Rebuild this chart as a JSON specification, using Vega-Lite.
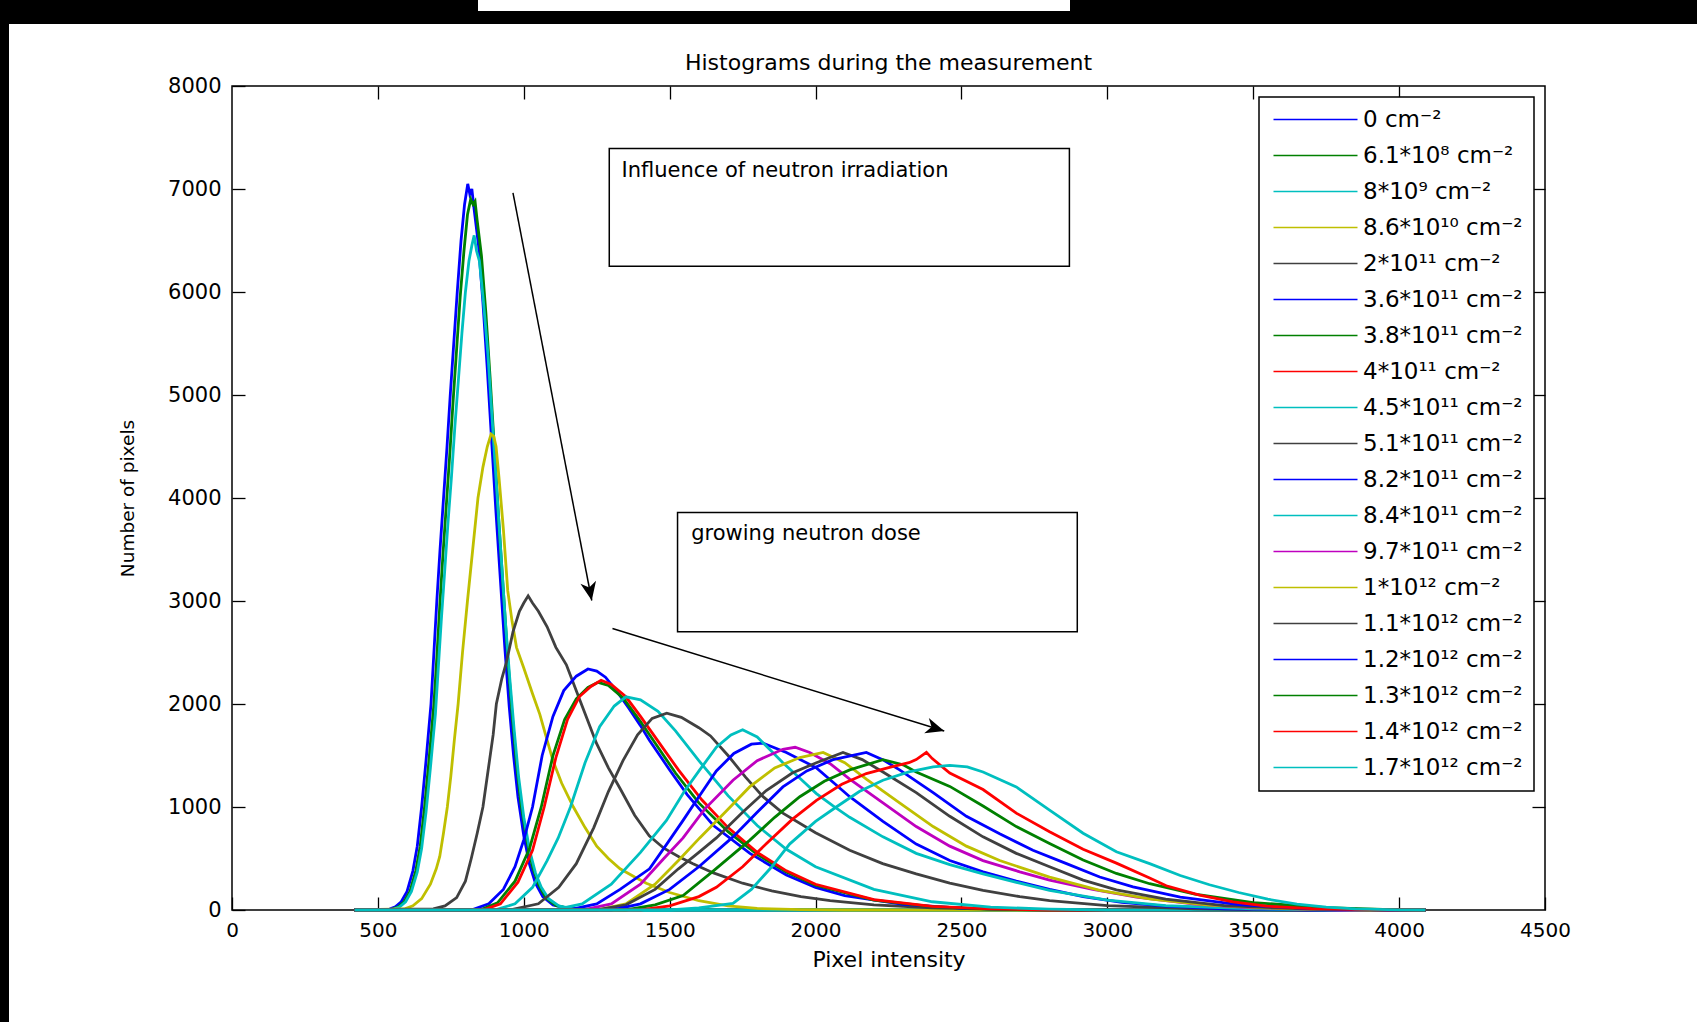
{
"$schema": "https://vega.github.io/schema/vega-lite/v6.json",
"padding": 0,
"background": "white",
"autosize": {"type": "pad"},
"datasets": {
"doses": [{"s":1,"dose":"0 cm⁻²"},{"s":2,"dose":"6.1*10⁸ cm⁻²"},{"s":3,"dose":"8*10⁹ cm⁻²"},{"s":4,"dose":"8.6*10¹⁰ cm⁻²"},{"s":5,"dose":"2*10¹¹ cm⁻²"},{"s":6,"dose":"3.6*10¹¹ cm⁻²"},{"s":7,"dose":"3.8*10¹¹ cm⁻²"},{"s":8,"dose":"4*10¹¹ cm⁻²"},{"s":9,"dose":"4.5*10¹¹ cm⁻²"},{"s":10,"dose":"5.1*10¹¹ cm⁻²"},{"s":11,"dose":"8.2*10¹¹ cm⁻²"},{"s":12,"dose":"8.4*10¹¹ cm⁻²"},{"s":13,"dose":"9.7*10¹¹ cm⁻²"},{"s":14,"dose":"1*10¹² cm⁻²"},{"s":15,"dose":"1.1*10¹² cm⁻²"},{"s":16,"dose":"1.2*10¹² cm⁻²"},{"s":17,"dose":"1.3*10¹² cm⁻²"},{"s":18,"dose":"1.4*10¹² cm⁻²"},{"s":19,"dose":"1.7*10¹² cm⁻²"}],
"boxes": [{"x1":1293,"x2":2870,"y1":6251,"y2":7393,"tx":1335,"ty":7173,"label":"Influence of neutron irradiation"},{"x1":1527,"x2":2897,"y1":2702,"y2":3860,"tx":1574,"ty":3651,"label":"growing neutron dose"}],
"arrows": [{"x1":963,"y1":6963,"x2":1233,"y2":3005},{"x1":1304,"y1":2733,"x2":2441,"y2":1738}],
"curves": [
{"s":1,"x":420,"y":0},{"s":1,"x":540,"y":8},{"s":1,"x":560,"y":30},{"s":1,"x":580,"y":80},{"s":1,"x":600,"y":180},{"s":1,"x":620,"y":380},{"s":1,"x":635,"y":620},{"s":1,"x":650,"y":1000},{"s":1,"x":665,"y":1450},{"s":1,"x":682,"y":2000},{"s":1,"x":692,"y":2500},{"s":1,"x":702,"y":3000},{"s":1,"x":713,"y":3500},{"s":1,"x":725,"y":4000},{"s":1,"x":737,"y":4500},{"s":1,"x":748,"y":5000},{"s":1,"x":760,"y":5500},{"s":1,"x":772,"y":6000},{"s":1,"x":785,"y":6500},{"s":1,"x":797,"y":6850},{"s":1,"x":808,"y":7050},{"s":1,"x":815,"y":6950},{"s":1,"x":822,"y":7000},{"s":1,"x":830,"y":6800},{"s":1,"x":845,"y":6450},{"s":1,"x":860,"y":5900},{"s":1,"x":875,"y":5250},{"s":1,"x":890,"y":4550},{"s":1,"x":905,"y":3850},{"s":1,"x":920,"y":3200},{"s":1,"x":935,"y":2550},{"s":1,"x":950,"y":1980},{"s":1,"x":965,"y":1500},{"s":1,"x":980,"y":1100},{"s":1,"x":1000,"y":720},{"s":1,"x":1020,"y":440},{"s":1,"x":1040,"y":260},{"s":1,"x":1065,"y":130},{"s":1,"x":1100,"y":50},{"s":1,"x":1150,"y":15},{"s":1,"x":1250,"y":3},{"s":1,"x":1400,"y":0},{"s":1,"x":4090,"y":0},
{"s":2,"x":420,"y":0},{"s":2,"x":550,"y":8},{"s":2,"x":570,"y":30},{"s":2,"x":590,"y":80},{"s":2,"x":610,"y":180},{"s":2,"x":630,"y":380},{"s":2,"x":645,"y":620},{"s":2,"x":660,"y":1000},{"s":2,"x":675,"y":1450},{"s":2,"x":692,"y":2000},{"s":2,"x":702,"y":2450},{"s":2,"x":712,"y":2950},{"s":2,"x":723,"y":3450},{"s":2,"x":735,"y":3950},{"s":2,"x":747,"y":4450},{"s":2,"x":758,"y":4950},{"s":2,"x":770,"y":5450},{"s":2,"x":782,"y":5950},{"s":2,"x":795,"y":6400},{"s":2,"x":807,"y":6750},{"s":2,"x":818,"y":6900},{"s":2,"x":826,"y":6850},{"s":2,"x":833,"y":6880},{"s":2,"x":840,"y":6700},{"s":2,"x":855,"y":6350},{"s":2,"x":870,"y":5800},{"s":2,"x":885,"y":5150},{"s":2,"x":900,"y":4450},{"s":2,"x":915,"y":3750},{"s":2,"x":930,"y":3100},{"s":2,"x":945,"y":2450},{"s":2,"x":960,"y":1900},{"s":2,"x":975,"y":1420},{"s":2,"x":990,"y":1040},{"s":2,"x":1010,"y":680},{"s":2,"x":1030,"y":420},{"s":2,"x":1050,"y":250},{"s":2,"x":1075,"y":120},{"s":2,"x":1110,"y":45},{"s":2,"x":1160,"y":12},{"s":2,"x":1260,"y":2},{"s":2,"x":1400,"y":0},{"s":2,"x":4090,"y":0},
{"s":3,"x":420,"y":0},{"s":3,"x":555,"y":8},{"s":3,"x":575,"y":30},{"s":3,"x":595,"y":80},{"s":3,"x":615,"y":180},{"s":3,"x":635,"y":370},{"s":3,"x":650,"y":600},{"s":3,"x":665,"y":950},{"s":3,"x":680,"y":1380},{"s":3,"x":697,"y":1900},{"s":3,"x":707,"y":2350},{"s":3,"x":717,"y":2800},{"s":3,"x":728,"y":3250},{"s":3,"x":740,"y":3750},{"s":3,"x":752,"y":4200},{"s":3,"x":764,"y":4700},{"s":3,"x":776,"y":5150},{"s":3,"x":788,"y":5600},{"s":3,"x":800,"y":6000},{"s":3,"x":812,"y":6300},{"s":3,"x":822,"y":6450},{"s":3,"x":830,"y":6550},{"s":3,"x":838,"y":6400},{"s":3,"x":848,"y":6300},{"s":3,"x":862,"y":5900},{"s":3,"x":877,"y":5400},{"s":3,"x":892,"y":4750},{"s":3,"x":907,"y":4100},{"s":3,"x":922,"y":3450},{"s":3,"x":937,"y":2800},{"s":3,"x":952,"y":2250},{"s":3,"x":967,"y":1750},{"s":3,"x":982,"y":1300},{"s":3,"x":1000,"y":900},{"s":3,"x":1020,"y":580},{"s":3,"x":1040,"y":360},{"s":3,"x":1060,"y":220},{"s":3,"x":1085,"y":110},{"s":3,"x":1120,"y":40},{"s":3,"x":1170,"y":12},{"s":3,"x":1270,"y":2},{"s":3,"x":1400,"y":0},{"s":3,"x":4090,"y":0},
{"s":4,"x":420,"y":0},{"s":4,"x":590,"y":10},{"s":4,"x":620,"y":40},{"s":4,"x":650,"y":110},{"s":4,"x":680,"y":250},{"s":4,"x":700,"y":400},{"s":4,"x":712,"y":520},{"s":4,"x":725,"y":750},{"s":4,"x":738,"y":1000},{"s":4,"x":750,"y":1300},{"s":4,"x":762,"y":1650},{"s":4,"x":775,"y":2000},{"s":4,"x":790,"y":2500},{"s":4,"x":807,"y":3000},{"s":4,"x":825,"y":3500},{"s":4,"x":843,"y":4000},{"s":4,"x":860,"y":4300},{"s":4,"x":875,"y":4500},{"s":4,"x":888,"y":4620},{"s":4,"x":897,"y":4600},{"s":4,"x":905,"y":4500},{"s":4,"x":915,"y":4200},{"s":4,"x":930,"y":3700},{"s":4,"x":945,"y":3100},{"s":4,"x":960,"y":2800},{"s":4,"x":975,"y":2550},{"s":4,"x":1000,"y":2350},{"s":4,"x":1030,"y":2100},{"s":4,"x":1055,"y":1900},{"s":4,"x":1080,"y":1650},{"s":4,"x":1100,"y":1450},{"s":4,"x":1130,"y":1230},{"s":4,"x":1170,"y":1000},{"s":4,"x":1210,"y":800},{"s":4,"x":1250,"y":620},{"s":4,"x":1290,"y":500},{"s":4,"x":1330,"y":400},{"s":4,"x":1380,"y":320},{"s":4,"x":1420,"y":260},{"s":4,"x":1500,"y":170},{"s":4,"x":1600,"y":90},{"s":4,"x":1700,"y":40},{"s":4,"x":1800,"y":15},{"s":4,"x":1950,"y":3},{"s":4,"x":2100,"y":0},{"s":4,"x":4090,"y":0},
{"s":5,"x":420,"y":0},{"s":5,"x":690,"y":10},{"s":5,"x":730,"y":40},{"s":5,"x":770,"y":120},{"s":5,"x":800,"y":280},{"s":5,"x":820,"y":500},{"s":5,"x":840,"y":740},{"s":5,"x":860,"y":1000},{"s":5,"x":880,"y":1400},{"s":5,"x":895,"y":1700},{"s":5,"x":906,"y":2000},{"s":5,"x":925,"y":2250},{"s":5,"x":940,"y":2400},{"s":5,"x":963,"y":2700},{"s":5,"x":985,"y":2900},{"s":5,"x":1000,"y":2980},{"s":5,"x":1015,"y":3050},{"s":5,"x":1030,"y":2980},{"s":5,"x":1050,"y":2900},{"s":5,"x":1080,"y":2750},{"s":5,"x":1110,"y":2550},{"s":5,"x":1146,"y":2380},{"s":5,"x":1200,"y":1980},{"s":5,"x":1249,"y":1620},{"s":5,"x":1290,"y":1380},{"s":5,"x":1330,"y":1180},{"s":5,"x":1380,"y":920},{"s":5,"x":1430,"y":720},{"s":5,"x":1480,"y":600},{"s":5,"x":1530,"y":520},{"s":5,"x":1580,"y":450},{"s":5,"x":1650,"y":360},{"s":5,"x":1750,"y":260},{"s":5,"x":1850,"y":185},{"s":5,"x":1950,"y":130},{"s":5,"x":2050,"y":90},{"s":5,"x":2200,"y":50},{"s":5,"x":2400,"y":22},{"s":5,"x":2600,"y":8},{"s":5,"x":2900,"y":0},{"s":5,"x":4090,"y":0},
{"s":6,"x":420,"y":0},{"s":6,"x":820,"y":0},{"s":6,"x":880,"y":60},{"s":6,"x":930,"y":200},{"s":6,"x":970,"y":420},{"s":6,"x":1000,"y":680},{"s":6,"x":1030,"y":1000},{"s":6,"x":1063,"y":1500},{"s":6,"x":1100,"y":1880},{"s":6,"x":1137,"y":2130},{"s":6,"x":1180,"y":2270},{"s":6,"x":1220,"y":2340},{"s":6,"x":1250,"y":2320},{"s":6,"x":1280,"y":2260},{"s":6,"x":1320,"y":2120},{"s":6,"x":1360,"y":1960},{"s":6,"x":1400,"y":1790},{"s":6,"x":1430,"y":1650},{"s":6,"x":1500,"y":1360},{"s":6,"x":1560,"y":1120},{"s":6,"x":1650,"y":820},{"s":6,"x":1775,"y":550},{"s":6,"x":1900,"y":340},{"s":6,"x":2000,"y":220},{"s":6,"x":2100,"y":140},{"s":6,"x":2300,"y":55},{"s":6,"x":2500,"y":18},{"s":6,"x":2700,"y":4},{"s":6,"x":2900,"y":0},{"s":6,"x":4090,"y":0},
{"s":7,"x":420,"y":0},{"s":7,"x":850,"y":0},{"s":7,"x":910,"y":70},{"s":7,"x":970,"y":280},{"s":7,"x":1020,"y":600},{"s":7,"x":1060,"y":1000},{"s":7,"x":1100,"y":1500},{"s":7,"x":1140,"y":1850},{"s":7,"x":1180,"y":2050},{"s":7,"x":1220,"y":2160},{"s":7,"x":1255,"y":2210},{"s":7,"x":1290,"y":2180},{"s":7,"x":1340,"y":2060},{"s":7,"x":1400,"y":1830},{"s":7,"x":1460,"y":1580},{"s":7,"x":1520,"y":1330},{"s":7,"x":1600,"y":1040},{"s":7,"x":1700,"y":760},{"s":7,"x":1800,"y":540},{"s":7,"x":1900,"y":370},{"s":7,"x":2000,"y":240},{"s":7,"x":2200,"y":95},{"s":7,"x":2400,"y":32},{"s":7,"x":2600,"y":8},{"s":7,"x":2800,"y":0},{"s":7,"x":4090,"y":0},
{"s":8,"x":420,"y":0},{"s":8,"x":860,"y":0},{"s":8,"x":920,"y":60},{"s":8,"x":980,"y":270},{"s":8,"x":1030,"y":580},{"s":8,"x":1070,"y":1000},{"s":8,"x":1110,"y":1480},{"s":8,"x":1150,"y":1850},{"s":8,"x":1190,"y":2070},{"s":8,"x":1230,"y":2170},{"s":8,"x":1265,"y":2230},{"s":8,"x":1300,"y":2190},{"s":8,"x":1350,"y":2070},{"s":8,"x":1400,"y":1880},{"s":8,"x":1460,"y":1640},{"s":8,"x":1530,"y":1360},{"s":8,"x":1610,"y":1070},{"s":8,"x":1700,"y":800},{"s":8,"x":1800,"y":560},{"s":8,"x":1900,"y":380},{"s":8,"x":2000,"y":250},{"s":8,"x":2200,"y":100},{"s":8,"x":2400,"y":35},{"s":8,"x":2600,"y":10},{"s":8,"x":2800,"y":0},{"s":8,"x":4090,"y":0},
{"s":9,"x":420,"y":0},{"s":9,"x":900,"y":0},{"s":9,"x":970,"y":60},{"s":9,"x":1030,"y":220},{"s":9,"x":1080,"y":480},{"s":9,"x":1118,"y":700},{"s":9,"x":1160,"y":1000},{"s":9,"x":1210,"y":1430},{"s":9,"x":1260,"y":1780},{"s":9,"x":1310,"y":1980},{"s":9,"x":1350,"y":2070},{"s":9,"x":1400,"y":2040},{"s":9,"x":1460,"y":1930},{"s":9,"x":1520,"y":1740},{"s":9,"x":1600,"y":1450},{"s":9,"x":1700,"y":1110},{"s":9,"x":1800,"y":820},{"s":9,"x":1900,"y":590},{"s":9,"x":2000,"y":420},{"s":9,"x":2200,"y":200},{"s":9,"x":2400,"y":80},{"s":9,"x":2600,"y":28},{"s":9,"x":2800,"y":8},{"s":9,"x":3000,"y":0},{"s":9,"x":4090,"y":0},
{"s":10,"x":420,"y":0},{"s":10,"x":950,"y":0},{"s":10,"x":1050,"y":60},{"s":10,"x":1120,"y":220},{"s":10,"x":1180,"y":450},{"s":10,"x":1240,"y":800},{"s":10,"x":1290,"y":1150},{"s":10,"x":1340,"y":1450},{"s":10,"x":1390,"y":1700},{"s":10,"x":1440,"y":1860},{"s":10,"x":1490,"y":1910},{"s":10,"x":1540,"y":1870},{"s":10,"x":1600,"y":1770},{"s":10,"x":1640,"y":1690},{"s":10,"x":1700,"y":1500},{"s":10,"x":1760,"y":1290},{"s":10,"x":1820,"y":1100},{"s":10,"x":1888,"y":940},{"s":10,"x":2000,"y":750},{"s":10,"x":2117,"y":580},{"s":10,"x":2230,"y":450},{"s":10,"x":2345,"y":350},{"s":10,"x":2460,"y":260},{"s":10,"x":2574,"y":190},{"s":10,"x":2700,"y":130},{"s":10,"x":2802,"y":90},{"s":10,"x":3000,"y":42},{"s":10,"x":3300,"y":12},{"s":10,"x":3600,"y":0},{"s":10,"x":4090,"y":0},
{"s":11,"x":420,"y":0},{"s":11,"x":1150,"y":0},{"s":11,"x":1250,"y":60},{"s":11,"x":1330,"y":200},{"s":11,"x":1431,"y":400},{"s":11,"x":1490,"y":640},{"s":11,"x":1546,"y":870},{"s":11,"x":1600,"y":1100},{"s":11,"x":1660,"y":1350},{"s":11,"x":1720,"y":1520},{"s":11,"x":1780,"y":1610},{"s":11,"x":1820,"y":1620},{"s":11,"x":1900,"y":1530},{"s":11,"x":2003,"y":1380},{"s":11,"x":2060,"y":1240},{"s":11,"x":2117,"y":1100},{"s":11,"x":2231,"y":860},{"s":11,"x":2345,"y":640},{"s":11,"x":2460,"y":480},{"s":11,"x":2574,"y":370},{"s":11,"x":2688,"y":280},{"s":11,"x":2802,"y":200},{"s":11,"x":2917,"y":130},{"s":11,"x":3050,"y":75},{"s":11,"x":3200,"y":38},{"s":11,"x":3400,"y":12},{"s":11,"x":3700,"y":0},{"s":11,"x":4090,"y":0},
{"s":12,"x":420,"y":0},{"s":12,"x":1100,"y":0},{"s":12,"x":1200,"y":60},{"s":12,"x":1300,"y":250},{"s":12,"x":1400,"y":560},{"s":12,"x":1489,"y":870},{"s":12,"x":1550,"y":1150},{"s":12,"x":1603,"y":1360},{"s":12,"x":1660,"y":1580},{"s":12,"x":1710,"y":1700},{"s":12,"x":1750,"y":1750},{"s":12,"x":1800,"y":1680},{"s":12,"x":1850,"y":1540},{"s":12,"x":1888,"y":1430},{"s":12,"x":1950,"y":1270},{"s":12,"x":2003,"y":1130},{"s":12,"x":2060,"y":1010},{"s":12,"x":2117,"y":900},{"s":12,"x":2231,"y":710},{"s":12,"x":2345,"y":550},{"s":12,"x":2460,"y":440},{"s":12,"x":2574,"y":350},{"s":12,"x":2700,"y":260},{"s":12,"x":2802,"y":190},{"s":12,"x":3000,"y":95},{"s":12,"x":3200,"y":42},{"s":12,"x":3500,"y":10},{"s":12,"x":3800,"y":0},{"s":12,"x":4090,"y":0},
{"s":13,"x":420,"y":0},{"s":13,"x":1200,"y":0},{"s":13,"x":1300,"y":60},{"s":13,"x":1400,"y":250},{"s":13,"x":1480,"y":500},{"s":13,"x":1546,"y":700},{"s":13,"x":1620,"y":980},{"s":13,"x":1717,"y":1260},{"s":13,"x":1800,"y":1450},{"s":13,"x":1888,"y":1560},{"s":13,"x":1930,"y":1580},{"s":13,"x":1980,"y":1530},{"s":13,"x":2050,"y":1420},{"s":13,"x":2117,"y":1270},{"s":13,"x":2231,"y":1040},{"s":13,"x":2345,"y":810},{"s":13,"x":2460,"y":620},{"s":13,"x":2574,"y":480},{"s":13,"x":2700,"y":370},{"s":13,"x":2802,"y":290},{"s":13,"x":2950,"y":200},{"s":13,"x":3100,"y":125},{"s":13,"x":3300,"y":58},{"s":13,"x":3500,"y":22},{"s":13,"x":3800,"y":0},{"s":13,"x":4090,"y":0},
{"s":14,"x":420,"y":0},{"s":14,"x":1250,"y":0},{"s":14,"x":1350,"y":60},{"s":14,"x":1450,"y":250},{"s":14,"x":1530,"y":480},{"s":14,"x":1603,"y":700},{"s":14,"x":1690,"y":950},{"s":14,"x":1774,"y":1195},{"s":14,"x":1860,"y":1380},{"s":14,"x":1946,"y":1480},{"s":14,"x":2026,"y":1530},{"s":14,"x":2100,"y":1430},{"s":14,"x":2174,"y":1270},{"s":14,"x":2288,"y":1040},{"s":14,"x":2403,"y":810},{"s":14,"x":2517,"y":620},{"s":14,"x":2631,"y":480},{"s":14,"x":2802,"y":320},{"s":14,"x":2974,"y":190},{"s":14,"x":3150,"y":105},{"s":14,"x":3350,"y":48},{"s":14,"x":3600,"y":14},{"s":14,"x":3900,"y":0},{"s":14,"x":4090,"y":0},
{"s":15,"x":420,"y":0},{"s":15,"x":1250,"y":0},{"s":15,"x":1350,"y":50},{"s":15,"x":1450,"y":200},{"s":15,"x":1530,"y":400},{"s":15,"x":1600,"y":560},{"s":15,"x":1660,"y":700},{"s":15,"x":1750,"y":950},{"s":15,"x":1831,"y":1160},{"s":15,"x":1920,"y":1330},{"s":15,"x":2003,"y":1430},{"s":15,"x":2094,"y":1530},{"s":15,"x":2160,"y":1460},{"s":15,"x":2231,"y":1340},{"s":15,"x":2345,"y":1140},{"s":15,"x":2460,"y":910},{"s":15,"x":2574,"y":710},{"s":15,"x":2688,"y":550},{"s":15,"x":2802,"y":420},{"s":15,"x":2917,"y":290},{"s":15,"x":3031,"y":195},{"s":15,"x":3200,"y":105},{"s":15,"x":3400,"y":42},{"s":15,"x":3700,"y":8},{"s":15,"x":3950,"y":0},{"s":15,"x":4090,"y":0},
{"s":16,"x":420,"y":0},{"s":16,"x":1300,"y":0},{"s":16,"x":1400,"y":60},{"s":16,"x":1500,"y":200},{"s":16,"x":1600,"y":420},{"s":16,"x":1717,"y":710},{"s":16,"x":1800,"y":950},{"s":16,"x":1888,"y":1195},{"s":16,"x":1970,"y":1350},{"s":16,"x":2060,"y":1460},{"s":16,"x":2174,"y":1530},{"s":16,"x":2230,"y":1460},{"s":16,"x":2288,"y":1360},{"s":16,"x":2403,"y":1140},{"s":16,"x":2517,"y":910},{"s":16,"x":2631,"y":740},{"s":16,"x":2745,"y":580},{"s":16,"x":2860,"y":450},{"s":16,"x":2974,"y":320},{"s":16,"x":3088,"y":225},{"s":16,"x":3250,"y":125},{"s":16,"x":3450,"y":52},{"s":16,"x":3700,"y":13},{"s":16,"x":4000,"y":0},{"s":16,"x":4090,"y":0},
{"s":17,"x":420,"y":0},{"s":17,"x":1350,"y":0},{"s":17,"x":1450,"y":50},{"s":17,"x":1546,"y":140},{"s":17,"x":1650,"y":380},{"s":17,"x":1774,"y":676},{"s":17,"x":1860,"y":900},{"s":17,"x":1946,"y":1100},{"s":17,"x":2030,"y":1250},{"s":17,"x":2117,"y":1360},{"s":17,"x":2231,"y":1460},{"s":17,"x":2300,"y":1410},{"s":17,"x":2345,"y":1340},{"s":17,"x":2460,"y":1200},{"s":17,"x":2574,"y":1010},{"s":17,"x":2688,"y":810},{"s":17,"x":2802,"y":645},{"s":17,"x":2917,"y":485},{"s":17,"x":3031,"y":355},{"s":17,"x":3145,"y":255},{"s":17,"x":3300,"y":155},{"s":17,"x":3500,"y":72},{"s":17,"x":3750,"y":22},{"s":17,"x":4000,"y":2},{"s":17,"x":4090,"y":0},
{"s":18,"x":420,"y":0},{"s":18,"x":1400,"y":0},{"s":18,"x":1500,"y":40},{"s":18,"x":1600,"y":130},{"s":18,"x":1660,"y":220},{"s":18,"x":1750,"y":420},{"s":18,"x":1831,"y":643},{"s":18,"x":1920,"y":880},{"s":18,"x":2003,"y":1065},{"s":18,"x":2090,"y":1220},{"s":18,"x":2174,"y":1325},{"s":18,"x":2260,"y":1390},{"s":18,"x":2320,"y":1430},{"s":18,"x":2345,"y":1460},{"s":18,"x":2380,"y":1530},{"s":18,"x":2400,"y":1470},{"s":18,"x":2460,"y":1330},{"s":18,"x":2574,"y":1170},{"s":18,"x":2688,"y":940},{"s":18,"x":2802,"y":760},{"s":18,"x":2917,"y":590},{"s":18,"x":3031,"y":455},{"s":18,"x":3145,"y":310},{"s":18,"x":3202,"y":235},{"s":18,"x":3316,"y":145},{"s":18,"x":3431,"y":78},{"s":18,"x":3545,"y":38},{"s":18,"x":3700,"y":13},{"s":18,"x":3900,"y":3},{"s":18,"x":4050,"y":0},{"s":18,"x":4090,"y":0},
{"s":19,"x":420,"y":0},{"s":19,"x":1500,"y":0},{"s":19,"x":1600,"y":20},{"s":19,"x":1717,"y":65},{"s":19,"x":1780,"y":200},{"s":19,"x":1850,"y":420},{"s":19,"x":1911,"y":640},{"s":19,"x":2000,"y":860},{"s":19,"x":2071,"y":1000},{"s":19,"x":2150,"y":1150},{"s":19,"x":2231,"y":1260},{"s":19,"x":2320,"y":1340},{"s":19,"x":2403,"y":1390},{"s":19,"x":2460,"y":1405},{"s":19,"x":2520,"y":1390},{"s":19,"x":2574,"y":1340},{"s":19,"x":2688,"y":1195},{"s":19,"x":2802,"y":970},{"s":19,"x":2917,"y":745},{"s":19,"x":3031,"y":565},{"s":19,"x":3145,"y":450},{"s":19,"x":3250,"y":335},{"s":19,"x":3350,"y":245},{"s":19,"x":3450,"y":170},{"s":19,"x":3550,"y":105},{"s":19,"x":3650,"y":58},{"s":19,"x":3750,"y":27},{"s":19,"x":3850,"y":10},{"s":19,"x":4000,"y":2},{"s":19,"x":4090,"y":0}
]
},
"bounds": "flush",
"spacing": 0,
"resolve": {"scale": {"color": "independent"}, "legend": {"color": "independent"}},
"hconcat": [
{"width": 9, "height": 1022, "data": {"values": []}, "mark": "point", "view": {"fill": "black", "stroke": null}},
{"bounds": "full", "spacing": 27,
 "resolve": {"scale": {"color": "independent"}, "legend": {"color": "independent"}},
 "vconcat": [
 {"bounds": "full", "spacing": 0,
  "vconcat": [
   {"bounds": "flush", "spacing": 0,
    "hconcat": [
     {"width": 469, "height": 11, "data": {"values": []}, "mark": "point", "view": {"fill": "black", "stroke": null}},
     {"width": 592, "height": 11, "data": {"values": []}, "mark": "point", "view": {"fill": "white", "stroke": null}},
     {"width": 627, "height": 11, "data": {"values": []}, "mark": "point", "view": {"fill": "black", "stroke": null}}
    ]},
   {"width": 1688, "height": 13, "data": {"values": []}, "mark": "point", "view": {"fill": "black", "stroke": null}}
  ]},
 {"bounds": "flush", "spacing": 0,
  "resolve": {"scale": {"color": "independent"}, "legend": {"color": "independent"}},
  "hconcat": [
  {"width": 223, "height": 824, "data": {"values": []}, "mark": "point", "view": {"stroke": null}},
  {"width": 1313, "height": 824,
   "title": {"text": "Histograms during the measurement", "frame": "group", "anchor": "middle", "fontSize": 22, "fontWeight": "normal", "font": "DejaVu Sans", "color": "black", "offset": 0},
   "view": {"stroke": "black", "strokeWidth": 1.5},
   "resolve": {"axis": {"x": "independent", "y": "independent"}},
   "layer": [
    {"data": {"name": "curves"},
     "transform": [{"lookup": "s", "from": {"data": {"name": "doses"}, "key": "s", "fields": ["dose"]}}],
     "mark": {"type": "line", "strokeWidth": 2.8},
     "encoding": {
      "x": {"field": "x", "type": "quantitative", "scale": {"domain": [0, 4500], "nice": false, "zero": false},
            "axis": {"orient": "bottom", "values": [0,500,1000,1500,2000,2500,3000,3500,4000,4500], "format": "d", "tickSize": -13, "labelPadding": 23, "labelFontSize": 20, "labelFlush": false, "labelOverlap": false, "title": "Pixel intensity", "titleFontSize": 22, "titlePadding": 9}},
      "y": {"field": "y", "type": "quantitative", "scale": {"domain": [0, 8000], "nice": false},
            "axis": {"orient": "left", "values": [0,1000,2000,3000,4000,5000,6000,7000,8000], "format": "d", "tickSize": -13, "labelPadding": 24, "labelFontSize": 21, "labelOverlap": false, "title": "Number of pixels", "titleFontSize": 18.5, "titlePadding": 30}},
      "color": {"field": "dose", "type": "nominal",
                "scale": {"domain": ["0 cm⁻²","6.1*10⁸ cm⁻²","8*10⁹ cm⁻²","8.6*10¹⁰ cm⁻²","2*10¹¹ cm⁻²","3.6*10¹¹ cm⁻²","3.8*10¹¹ cm⁻²","4*10¹¹ cm⁻²","4.5*10¹¹ cm⁻²","5.1*10¹¹ cm⁻²","8.2*10¹¹ cm⁻²","8.4*10¹¹ cm⁻²","9.7*10¹¹ cm⁻²","1*10¹² cm⁻²","1.1*10¹² cm⁻²","1.2*10¹² cm⁻²","1.3*10¹² cm⁻²","1.4*10¹² cm⁻²","1.7*10¹² cm⁻²"],
                          "range": ["#0000ff","#008000","#00bfbf","#bfbf00","#404040","#0000ff","#008000","#ff0000","#00bfbf","#404040","#0000ff","#00bfbf","#bf00bf","#bfbf00","#404040","#0000ff","#008000","#ff0000","#00bfbf"]},
                "legend": {"title": null, "orient": "top-right", "offset": 11}}
     }},
    {"data": {"name": "boxes"},
     "mark": {"type": "rect", "fill": "white", "stroke": "black", "strokeWidth": 1.5},
     "encoding": {
      "x": {"field": "x1", "type": "quantitative", "scale": {"domain": [0, 4500], "nice": false}, "axis": null},
      "x2": {"field": "x2"},
      "y": {"field": "y1", "type": "quantitative", "scale": {"domain": [0, 8000], "nice": false}, "axis": null},
      "y2": {"field": "y2"}}},
    {"data": {"name": "boxes"},
     "mark": {"type": "text", "align": "left", "baseline": "middle", "font": "DejaVu Sans", "fontSize": 21, "color": "black"},
     "encoding": {
      "x": {"field": "tx", "type": "quantitative", "scale": {"domain": [0, 4500], "nice": false}, "axis": null},
      "y": {"field": "ty", "type": "quantitative", "scale": {"domain": [0, 8000], "nice": false}, "axis": null},
      "text": {"field": "label"}}},
    {"data": {"name": "arrows"},
     "mark": {"type": "rule", "color": "black", "strokeWidth": 1.5},
     "encoding": {
      "x": {"field": "x1", "type": "quantitative", "scale": {"domain": [0, 4500], "nice": false}, "axis": null},
      "x2": {"field": "x2"},
      "y": {"field": "y1", "type": "quantitative", "scale": {"domain": [0, 8000], "nice": false}, "axis": null},
      "y2": {"field": "y2"}}},
    {"data": {"name": "arrows"},
     "transform": [{"filter": "datum.x1 < 1000"}],
     "mark": {"type": "point", "shape": "M0,0L-0.6,-1.4L0,-1L0.6,-1.4Z", "size": 700, "filled": true, "color": "black", "opacity": 1, "angle": -11},
     "encoding": {
      "x": {"field": "x2", "type": "quantitative", "scale": {"domain": [0, 4500], "nice": false}, "axis": null},
      "y": {"field": "y2", "type": "quantitative", "scale": {"domain": [0, 8000], "nice": false}, "axis": null}}},
    {"data": {"name": "arrows"},
     "transform": [{"filter": "datum.x1 > 1000"}],
     "mark": {"type": "point", "shape": "M0,0L-0.6,-1.4L0,-1L0.6,-1.4Z", "size": 700, "filled": true, "color": "black", "opacity": 1, "angle": -73},
     "encoding": {
      "x": {"field": "x2", "type": "quantitative", "scale": {"domain": [0, 4500], "nice": false}, "axis": null},
      "y": {"field": "y2", "type": "quantitative", "scale": {"domain": [0, 8000], "nice": false}, "axis": null}}},
    {"data": {"values": []},
     "mark": "point",
     "encoding": {
      "x": {"field": "x", "type": "quantitative", "scale": {"domain": [0, 4500], "nice": false},
            "axis": {"orient": "top", "values": [500,1000,1500,2000,2500,3000,3500,4000], "labels": false, "tickSize": -13, "title": null}},
      "y": {"field": "y", "type": "quantitative", "scale": {"domain": [0, 8000], "nice": false},
            "axis": {"orient": "right", "values": [1000,2000,3000,4000,5000,6000,7000], "labels": false, "tickSize": -13, "title": null}}}}
   ]}
 ]}
]}
],
"config": {
 "font": "DejaVu Sans",
 "view": {"stroke": null},
 "axis": {"domain": false, "grid": false, "ticks": true, "tickColor": "black", "tickWidth": 1.3, "labelColor": "black", "titleColor": "black", "labelFont": "DejaVu Sans", "titleFont": "DejaVu Sans", "titleFontWeight": "normal"},
 "legend": {"labelFont": "DejaVu Sans", "labelFontSize": 23, "labelColor": "black", "labelLimit": 400, "strokeColor": "black", "strokeWidth": 1.5, "fillColor": "white", "padding": 11, "rowPadding": 12, "symbolType": "M-1.6,0H15.2", "symbolSize": 100, "symbolStrokeWidth": 1.5, "symbolOffset": 0, "labelOffset": 70, "cornerRadius": 0}
}
}
